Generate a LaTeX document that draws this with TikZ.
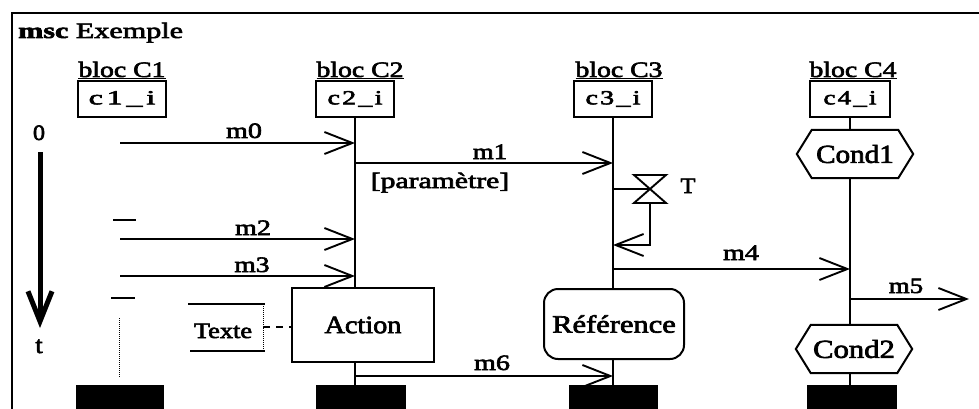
\documentclass[tikz,border=0pt]{standalone}
\usepackage{fontspec}
\setmainfont{Liberation Serif}[FakeBold=2.5]
\usetikzlibrary{arrows.meta}
\newcommand{\sx}[2]{\scalebox{#1}[1]{#2}}
\begin{document}
\begin{tikzpicture}[x=1pt,y=-1pt,
  ln/.style={line width=1.9pt},
  frm/.style={line width=2.2pt},
  boxst/.style={draw, line width=2pt, inner sep=0pt},
  head/.style={boxst, minimum height=36pt, font=\fontsize{20}{22}\selectfont},
  endbox/.style={fill=black, inner sep=0pt, minimum height=26pt},
  msg/.style={line width=1.9pt, -{Straight Barb[length=28pt,width=22pt]}},
  txt/.style={anchor=base, inner sep=0pt, font=\fontsize{22}{24}\selectfont},
  cond/.style={inner sep=0pt, minimum width=86pt, minimum height=48pt, font=\fontsize{26}{28}\selectfont},
  hex/.style={line width=2pt},
]
\useasboundingbox (0,0) rectangle (979,409);
% frame
\draw[frm] (12,410) -- (12,13) -- (980,13);
\node[anchor=base west, inner sep=0pt, font=\fontsize{22}{24}\selectfont] (title) at (18,38) {\sx{1.37}{\textbf{msc} Exemple}};

% instance heads
\node[txt] (b1) at (122,77) {\sx{1.26}{\underline{bloc C1}}};
\node[txt] (b2) at (360,77) {\sx{1.26}{\underline{bloc C2}}};
\node[txt] (b3) at (619,77) {\sx{1.26}{\underline{bloc C3}}};
\node[txt] (b4) at (853,77) {\sx{1.26}{\underline{bloc C4}}};
\node[head, minimum width=88pt] (h1) at (122,99) {\sx{1.6}{\addfontfeature{LetterSpace=12}c1\_i}};
\node[head, minimum width=78pt] (h2) at (355,99) {\sx{1.4}{\addfontfeature{LetterSpace=8}c2\_i}};
\node[head, minimum width=78pt] (h3) at (613,99) {\sx{1.4}{\addfontfeature{LetterSpace=8}c3\_i}};
\node[head, minimum width=80pt] (h4) at (850,99) {\sx{1.35}{\addfontfeature{LetterSpace=8}c4\_i}};

% end boxes
\node[endbox, minimum width=88pt] (e1) at (120,398) {};
\node[endbox, minimum width=90pt] (e2) at (361,398) {};
\node[endbox, minimum width=89pt] (e3) at (613,398) {};
\node[endbox, minimum width=90pt] (e4) at (852,398) {};

% boxes on instances
\node[boxst, minimum width=142pt, minimum height=74pt, font=\fontsize{25}{28}\selectfont] (act) at (363,325) {\sx{1.13}{Action}};
\node[boxst, rounded corners=14pt, minimum width=140pt, minimum height=70pt, font=\fontsize{25}{28}\selectfont] (ref) at (614,324) {\sx{1.22}{Référence}};
\node[cond] (k1) at (855,154) {\sx{1.12}{Cond1}};
\node[cond] (k2) at (854,349) {\sx{1.18}{Cond2}};
\draw[hex] (k1.north west) -- (k1.north east) -- ([xshift=15pt]k1.east) -- (k1.south east) -- (k1.south west) -- ([xshift=-15pt]k1.west) -- cycle;
\draw[hex] (k2.north west) -- (k2.north east) -- ([xshift=15pt]k2.east) -- (k2.south east) -- (k2.south west) -- ([xshift=-15pt]k2.west) -- cycle;

% lifelines
\draw[ln] (h2.south) -- (h2.south |- act.north);
\draw[ln] (h2.south |- act.south) -- (h2.south |- e2.north);
\draw[ln] (h3.south) -- (h3.south |- ref.north);
\draw[ln] (h3.south |- ref.south) -- (h3.south |- e3.north);
\draw[ln] (h4.south) -- (h4.south |- k1.north);
\draw[ln] (h4.south |- k1.south) -- (h4.south |- k2.north);
\draw[ln] (h4.south |- k2.south) -- (h4.south |- e4.north);
% instance C1 marks
\draw[ln] (113,220) -- (136,220);
\draw[ln] (111,298) -- (135,298);
\draw[line width=1pt, densely dotted] (119,318) -- (119,377);

% messages
\coordinate (m0a) at (120,143);
\coordinate (m1a) at (355,163);
\coordinate (m2a) at (120,239);
\coordinate (m3a) at (120,276);
\coordinate (m4a) at (613,269);
\coordinate (m5a) at (850,299);
\coordinate (m5b) at (969,299);
\coordinate (m6a) at (355,376);
\draw[msg] (m0a) -- (h2.south |- m0a);
\draw[msg] (m1a) -- (h3.south |- m1a);
\draw[msg] (m2a) -- (h2.south |- m2a);
\draw[msg] (m3a) -- (h2.south |- m3a);
\draw[msg] (m4a) -- (h4.south |- m4a);
\draw[msg] (m5a) -- (m5b);
\draw[msg] (m6a) -- (h3.south |- m6a);
\node[txt] (l0) at (244,138) {\sx{1.28}{m0}};
\node[txt] (l1) at (490,159) {\sx{1.22}{m1}};
\node[txt] (par) at (440,188) {\sx{1.35}{[paramètre]}};
\node[txt] (l2) at (253,235) {\sx{1.28}{m2}};
\node[txt] (l3) at (252,272) {\sx{1.25}{m3}};
\node[txt] (l4) at (741,260) {\sx{1.28}{m4}};
\node[txt] (l5) at (906,293) {\sx{1.22}{m5}};
\node[txt] (l6) at (492,370) {\sx{1.28}{m6}};

% timer
\coordinate (tm) at (650,189);
\coordinate (tout) at (650,245);
\draw[ln] (h3.south |- tm) -- (tm);
\draw[ln, line join=miter] (tm) -- ++(-16,-14) -- ++(32,0) -- cycle;
\draw[ln, line join=miter] (tm) -- ++(-16,14) -- ++(32,0) -- cycle;
\draw[msg] ([yshift=-14pt]tm) -- (tout) -- (h3.south |- tout);
\node[txt] (tl) at (688,193) {\sx{1.1}{T}};

% comment
\node[txt] (tx) at (223,338) {\sx{1.2}{Texte}};
\coordinate (cta) at (263,304);
\coordinate (ctb) at (263,351);
\coordinate (ctc) at (263,327);
\draw[ln] (188,304) -- (cta) -- ++(2,0);
\draw[ln] (190,351) -- (ctb) -- ++(2,0);
\draw[line width=1pt, densely dotted] (cta) -- (ctb);
\draw[ln, dash pattern=on 7pt off 6pt] (ctc) -- (act.west |- ctc);

% time axis
\node[txt] (zero) at (39,140) {\sx{1.1}{0}};
\node[txt, font=\fontsize{24}{26}\selectfont] (tt) at (39,353) {\sx{1.1}{t}};
\coordinate (ta) at (40,152);
\coordinate (tb) at (40,328);
\draw[line width=5pt, -{Straight Barb[length=30pt,width=24pt]}] (ta) -- (tb);
\end{tikzpicture}
\end{document}
